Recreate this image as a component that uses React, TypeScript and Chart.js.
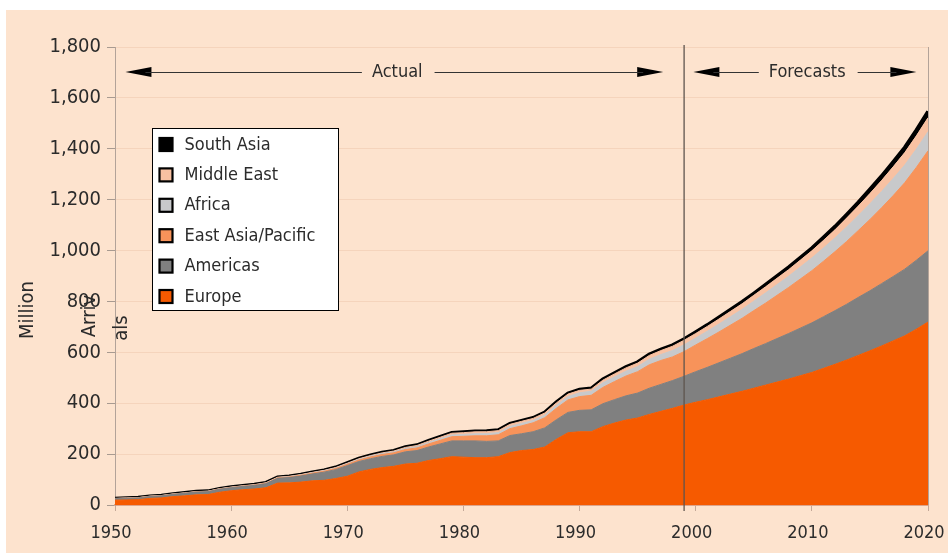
import React, { useEffect, useRef } from "react";
import { Chart, registerables } from "chart.js";

Chart.register(...registerables);

const years = [
  1950, 1951, 1952, 1953, 1954, 1955, 1956, 1957, 1958, 1959,
  1960, 1961, 1962, 1963, 1964, 1965, 1966, 1967, 1968, 1969,
  1970, 1971, 1972, 1973, 1974, 1975, 1976, 1977, 1978, 1979,
  1980, 1981, 1982, 1983, 1984, 1985, 1986, 1987, 1988, 1989,
  1990, 1991, 1992, 1993, 1994, 1995, 1996, 1997, 1998, 1999,
  2000, 2001, 2002, 2003, 2004, 2005, 2006, 2007, 2008, 2009,
  2010, 2011, 2012, 2013, 2014, 2015, 2016, 2017, 2018, 2019,
  2020,
];

const europe = [
  19, 20, 21, 26, 28, 33, 36, 40, 41, 50,
  56, 60, 63, 68, 86, 87, 90, 95, 97, 104,
  113, 130, 140, 147, 152, 161, 164, 175, 182, 190,
  188, 186, 186, 190, 206, 214, 218, 228, 258, 284,
  288, 288, 308, 322, 334, 342, 356, 368, 380, 393,
  404, 414, 425, 436, 447, 459, 471, 483, 495, 508,
  521, 537, 553, 570, 588, 606, 625, 645, 665, 691,
  719,
];

const americas = [
  6, 6.5, 7, 7.5, 8, 9, 10, 11, 11.5, 12,
  12, 13, 14, 16, 19, 21, 24, 27, 32, 35,
  42, 41, 42, 44, 45, 48, 50, 53, 58, 62,
  64, 66, 64, 62, 67, 66, 70, 75, 77, 80,
  84, 86, 90, 92, 95, 98, 103, 106, 109, 113,
  120, 127, 134, 141, 148, 156, 163, 171, 179, 187,
  195, 203, 211, 219, 228, 236, 245, 253, 262, 271,
  280,
];

const eastAsiaPacific = [
  0.2, 0.2, 0.3, 0.3, 0.4, 0.4, 0.5, 0.6, 0.7, 0.8,
  0.9, 1.0, 1.2, 1.5, 1.8, 2.2, 2.7, 3.2, 3.7, 4.3,
  5, 5.8, 6.5, 7.4, 8, 9, 10.5, 12, 14, 16.5,
  18, 20, 22, 24, 27, 31, 35, 40, 45, 49,
  54, 57, 64, 71, 78, 84, 92, 94, 93, 97,
  105, 113, 121, 130, 139, 149, 159, 170, 181, 193,
  205, 218, 232, 247, 263, 280, 298, 318, 340, 365,
  393,
];

const africa = [
  0.5, 0.5, 0.5, 0.6, 0.6, 0.7, 0.7, 0.7, 0.7, 0.7,
  0.8, 0.8, 0.9, 1.0, 1.2, 1.4, 1.6, 1.8, 2.0, 2.2,
  2.4, 2.8, 3.2, 3.6, 4.0, 4.7, 5.2, 5.8, 6.5, 7.0,
  7.2, 8.0, 8.5, 8.7, 9.0, 9.7, 9.4, 10.0, 12.0, 13.5,
  15.0, 16.0, 18.0, 18.5, 18.9, 20.0, 21.8, 23.0, 25.0, 26.5,
  27, 29, 31, 33, 35, 37, 40, 42, 44, 47,
  50, 52, 54, 57, 59, 62, 64, 67, 69, 72,
  75,
];

const middleEast = [
  0.2, 0.2, 0.2, 0.3, 0.3, 0.3, 0.4, 0.4, 0.4, 0.5,
  0.6, 0.7, 0.8, 0.9, 1.0, 1.1, 1.2, 1.3, 1.5, 1.7,
  1.9, 2.2, 2.5, 2.8, 3.1, 3.5, 4.2, 5.0, 5.8, 6.5,
  7.1, 7.5, 7.4, 7.6, 7.9, 8.1, 7.9, 8.6, 9.0, 9.3,
  9.6, 8.4, 10.5, 11.5, 12.9, 13.7, 15.0, 15.9, 16.9, 18.0,
  18, 19, 20, 21, 22, 23, 24, 25, 26, 27,
  28, 30, 32, 35, 37, 40, 43, 46, 49, 52,
  55,
];

const southAsia = [
  0.1, 0.1, 0.1, 0.2, 0.2, 0.2, 0.2, 0.3, 0.3, 0.3,
  0.4, 0.4, 0.4, 0.5, 0.5, 0.6, 0.6, 0.7, 0.8, 0.9,
  1.0, 1.1, 1.2, 1.3, 1.5, 1.6, 1.8, 1.9, 2.1, 2.2,
  2.3, 2.4, 2.5, 2.5, 2.4, 2.5, 2.7, 2.9, 3.0, 3.1,
  3.2, 3.3, 3.5, 3.6, 3.9, 4.2, 4.4, 4.7, 4.8, 5.0,
  6, 6, 7, 7, 8, 8, 9, 9, 10, 10,
  11, 12, 13, 14, 15, 17, 18, 20, 21, 23,
  25,
];

const seriesNames = ["Europe", "Americas", "East Asia/Pacific", "Africa", "Middle East", "South Asia"];
const seriesValues = [europe, americas, eastAsiaPacific, africa, middleEast, southAsia];
const seriesColors = ["#F65A00", "#808080", "#F7935A", "#C8C9CB", "#F8C1A2", "#000000"];

const yTicks = { min: 0, max: 1800, step: 200 };
const xTicks = { min: 1950, max: 2020, step: 10 };
const splitYear = 1999;
const yTitleParts = ["Million", "Arriv", "als"];

const FONT = '"Liberation Sans Narrow", "DejaVu Sans Condensed", "Arial Narrow", sans-serif';
const TEXT = "#2b2b2b";
const PEACH = "#FDE3CE";

function arrowHead(ctx: CanvasRenderingContext2D, tipX: number, y: number, dir: number) {
  ctx.beginPath();
  ctx.moveTo(tipX, y);
  ctx.lineTo(tipX - dir * 26, y - 5);
  ctx.lineTo(tipX - dir * 26, y + 5);
  ctx.closePath();
  ctx.fill();
}

function labelledArrow(
  ctx: CanvasRenderingContext2D,
  left: number,
  right: number,
  centre: number,
  y: number,
  text: string
) {
  ctx.font = `18px ${FONT}`;
  const w = ctx.measureText(text).width;
  ctx.fillStyle = "#000";
  arrowHead(ctx, left, y, -1);
  arrowHead(ctx, right, y, 1);
  ctx.strokeStyle = "#333";
  ctx.lineWidth = 1;
  ctx.beginPath();
  ctx.moveTo(left + 20, y + 0.5);
  ctx.lineTo(centre - w / 2 - 10, y + 0.5);
  ctx.moveTo(centre + w / 2 + 12, y + 0.5);
  ctx.lineTo(right - 20, y + 0.5);
  ctx.stroke();
  ctx.fillStyle = TEXT;
  ctx.textAlign = "center";
  ctx.textBaseline = "middle";
  ctx.fillText(text, centre, y);
}

const decorPlugin = {
  id: "decor",
  beforeDraw(chart: any) {
    const { ctx, width, height } = chart;
    ctx.save();
    ctx.fillStyle = "#FFFFFF";
    ctx.fillRect(0, 0, width, height);
    ctx.fillStyle = PEACH;
    ctx.fillRect(6, 10, width - 6, height - 10);
    ctx.restore();
  },
  afterDraw(chart: any) {
    const { ctx, chartArea } = chart;
    const xs = chart.scales.x;
    const ys = chart.scales.y;
    ctx.save();

    // right frame line
    ctx.strokeStyle = "#B3A399";
    ctx.lineWidth = 1;
    ctx.beginPath();
    ctx.moveTo(Math.round(chartArea.right) + 0.5, chartArea.top);
    ctx.lineTo(Math.round(chartArea.right) + 0.5, chartArea.bottom);
    ctx.stroke();

    // split line actual / forecast
    const sx = xs.getPixelForValue(splitYear);
    ctx.strokeStyle = "#5E544E";
    ctx.lineWidth = 1.3;
    ctx.beginPath();
    ctx.moveTo(sx, chartArea.top - 2);
    ctx.lineTo(sx, chartArea.bottom + 6);
    ctx.stroke();

    // arrows
    const ay = Math.round(ys.getPixelForValue(1700));
    labelledArrow(ctx, xs.getPixelForValue(1950.9), xs.getPixelForValue(1997.2), xs.getPixelForValue(1974.3), ay, "Actual");
    labelledArrow(ctx, xs.getPixelForValue(1999.8), xs.getPixelForValue(2019.0), xs.getPixelForValue(2009.6), ay, "Forecasts");

    // y title (broken into pieces as in the original)
    ctx.fillStyle = TEXT;
    ctx.font = `20px ${FONT}`;
    ctx.textAlign = "center";
    ctx.textBaseline = "middle";
    const titlePos = [
      [28, 310],
      [90, 316],
      [122, 328],
    ];
    yTitleParts.forEach((t, i) => {
      ctx.save();
      ctx.translate(titlePos[i][0], titlePos[i][1]);
      ctx.rotate(-Math.PI / 2);
      ctx.fillText(t, 0, 0);
      ctx.restore();
    });

    // legend
    const lx = chartArea.left + 37.5;
    const ly = chartArea.top + 81.5;
    const lw = 186;
    const lh = 182;
    ctx.fillStyle = "#FFFFFF";
    ctx.fillRect(lx, ly, lw, lh);
    ctx.strokeStyle = "#000";
    ctx.lineWidth = 1;
    ctx.strokeRect(lx, ly, lw, lh);
    const ds = chart.data.datasets.slice().reverse();
    ctx.font = `18px ${FONT}`;
    ctx.textAlign = "left";
    ctx.textBaseline = "middle";
    ds.forEach((d: any, i: number) => {
      const cy = ly + 15.5 + i * 30.4;
      ctx.fillStyle = d.backgroundColor;
      ctx.fillRect(lx + 7, cy - 6, 13, 13);
      ctx.strokeStyle = "#000";
      ctx.lineWidth = 2.2;
      ctx.strokeRect(lx + 7, cy - 6, 13, 13);
      ctx.fillStyle = TEXT;
      ctx.fillText(d.label, lx + 32, cy + 1);
    });

    ctx.restore();
  },
};

export default function App() {
  const ref = useRef<HTMLCanvasElement | null>(null);

  useEffect(() => {
    document.body.style.margin = "0";
    const canvas = ref.current;
    if (!canvas) return;
    const datasets = seriesNames.map((name, i) => ({
      label: name,
      data: years.map((yr, j) => ({ x: yr, y: seriesValues[i][j] })),
      backgroundColor: seriesColors[i],
      borderColor: seriesColors[i],
      borderWidth: i === seriesNames.length - 1 ? 3.5 : 1,
      pointRadius: 0,
      tension: 0,
      fill: i === 0 ? "origin" : "-1",
    }));
    const chart = new Chart(canvas, {
      type: "line",
      data: { datasets },
      plugins: [decorPlugin],
      options: {
        animation: false,
        responsive: false,
        devicePixelRatio: 1,
        layout: { padding: { left: 0, top: 47, right: 20, bottom: 0 } },
        plugins: { legend: { display: false }, tooltip: { enabled: false } },
        scales: {
          x: {
            type: "linear",
            min: xTicks.min,
            max: xTicks.max,
            afterFit: (s: any) => {
              s.height = 48;
              s.paddingLeft = 0;
              s.paddingRight = 0;
            },
            ticks: {
              stepSize: xTicks.step,
              callback: (v: any) => String(v),
              color: TEXT,
              font: { family: FONT, size: 18 },
              padding: 12,
              maxRotation: 0,
              labelOffset: -4,
            },
            grid: { drawOnChartArea: false, tickLength: 6, tickColor: "#C4A898" },
            border: { color: "#DDA58C", width: 2 },
          },
          y: {
            stacked: true,
            min: yTicks.min,
            max: yTicks.max,
            afterFit: (s: any) => {
              s.width = 115;
              s.paddingTop = 0;
              s.paddingBottom = 0;
            },
            ticks: {
              stepSize: yTicks.step,
              color: TEXT,
              font: { family: FONT, size: 20 },
              padding: 6,
            },
            grid: { color: "#F5D4BC", tickLength: 8, tickColor: "#A89A90" },
            border: { color: "#B3A399", width: 1 },
          },
        },
      },
    });
    return () => chart.destroy();
  }, []);

  return <canvas ref={ref} width={948} height={553} style={{ width: 948, height: 553, display: "block" }} />;
}
